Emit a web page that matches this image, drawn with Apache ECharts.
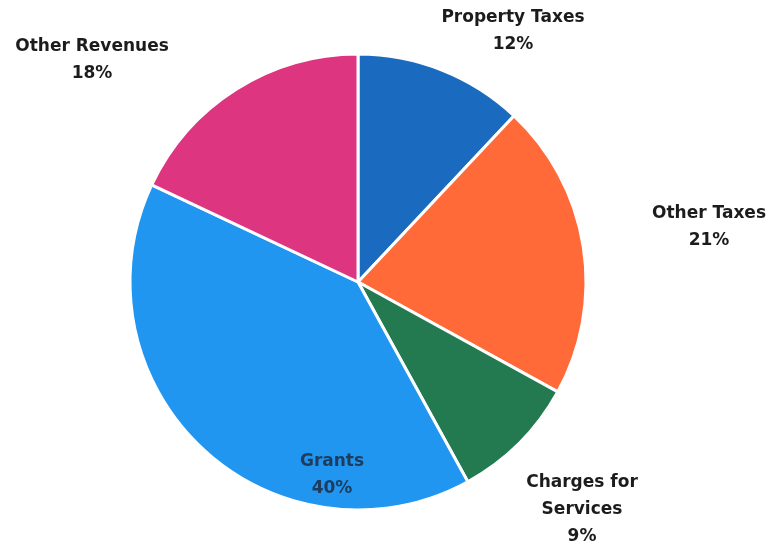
<!DOCTYPE html>
<html>
<head>
<meta charset="utf-8">
<script src="https://cdn.jsdelivr.net/npm/echarts@6/dist/echarts.min.js"></script>
<style>
  html, body { margin: 0; padding: 0; background: #ffffff; }
  #chart { width: 770px; height: 548px; }
</style>
</head>
<body>
<div id="chart"></div>
<script>
// Revenue sources, clockwise from 12 o'clock
const categories = ['Property Taxes', 'Other Taxes', 'Charges for\nServices', 'Grants', 'Other Revenues'];
const shares = [12, 21, 9, 40, 18];
const colors = ['#1a6bbf', '#ff6a38', '#237a50', '#2196f1', '#dd3580'];

// Label anchor points (pixels) for each slice's caption
const labelSpots = [
  { x: 513, y: 31 },
  { x: 709, y: 227 },
  { x: 582, y: 510 },
  { x: 332, y: 475 },
  { x: 92, y: 60 }
];

const chart = echarts.init(document.getElementById('chart'), null, { renderer: 'canvas' });

chart.setOption({
  backgroundColor: '#ffffff',
  animation: false,
  series: [{
    type: 'pie',
    center: [358, 282],
    radius: 228,
    startAngle: 90,
    clockwise: true,
    avoidLabelOverlap: false,
    itemStyle: { borderColor: '#ffffff', borderWidth: 3 },
    label: {
      show: true,
      position: 'outside',
      formatter: (p) => p.name + '\n' + p.value + '%',
      fontFamily: 'DejaVu Sans',
      fontWeight: 'bold',
      fontSize: 17,
      lineHeight: 27,
      color: '#1c1c1c',
      align: 'center'
    },
    labelLine: { show: false },
    labelLayout: (params) => {
      const s = labelSpots[params.dataIndex];
      return { x: s.x, y: s.y, align: 'center', verticalAlign: 'middle' };
    },
    data: categories.map((name, i) => ({
      name: name,
      value: shares[i],
      itemStyle: { color: colors[i] },
      label: i === 3 ? { color: '#1d3c5e' } : undefined
    }))
  }]
});
</script>
</body>
</html>
